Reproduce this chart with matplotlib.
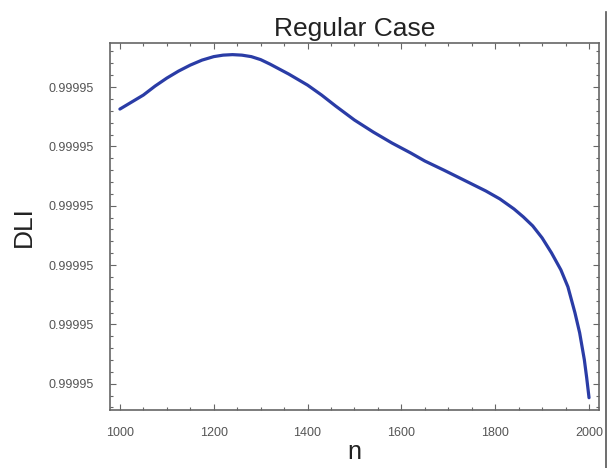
import matplotlib
matplotlib.use("Agg")
import matplotlib.pyplot as plt
from matplotlib.ticker import FixedLocator, FormatStrFormatter, MultipleLocator, AutoMinorLocator
from matplotlib.lines import Line2D

# Data
n_values = [1000, 1025, 1050, 1075, 1100, 1125, 1150, 1175, 1200, 1220, 1240,
            1260, 1280, 1300, 1320, 1340, 1360, 1400, 1430, 1460, 1500, 1540,
            1580, 1620, 1650, 1690, 1720, 1750, 1780, 1810, 1840, 1860, 1880,
            1900, 1920, 1940, 1955, 1970, 1980, 1990, 1995, 2000]
dli_values = [0.9999505259, 0.9999505495, 0.9999505731, 0.9999506034,
              0.9999506303, 0.9999506539, 0.9999506741, 0.9999506909,
              0.9999507027, 0.9999507077, 0.9999507094, 0.9999507077,
              0.9999507027, 0.9999506926, 0.9999506774, 0.9999506606,
              0.9999506438, 0.9999506067, 0.9999505731, 0.9999505360,
              0.9999504889, 0.9999504485, 0.9999504114, 0.9999503778,
              0.9999503508, 0.9999503205, 0.9999502970, 0.9999502734,
              0.9999502498, 0.9999502229, 0.9999501892, 0.9999501623,
              0.9999501320, 0.9999500916, 0.9999500411, 0.9999499838,
              0.9999499266, 0.9999498391, 0.9999497717, 0.9999496808,
              0.9999496202, 0.9999495529]
x_ticks = [1000, 1200, 1400, 1600, 1800, 2000]
y_ticks = [0.9999496, 0.9999498, 0.9999500, 0.9999502, 0.9999504, 0.9999506]

title_text = "Regular Case"
x_label = "n"
y_label = "DLI"

fig = plt.figure(figsize=(6.08, 4.68), dpi=100)
ax = fig.add_axes([0.181, 0.123, 0.804, 0.786])

ax.plot(n_values, dli_values, color="#2a3ca6", lw=2.3, solid_capstyle="round",
        solid_joinstyle="round")

ax.set_xlim(979, 2021)
ax.set_ylim(0.99994951, 0.99995075)

ax.xaxis.set_major_locator(FixedLocator(x_ticks))
ax.xaxis.set_minor_locator(MultipleLocator(50))
ax.yaxis.set_major_locator(FixedLocator(y_ticks))
ax.yaxis.set_minor_locator(AutoMinorLocator(5))
ax.yaxis.set_major_formatter(FormatStrFormatter("%.5f"))
ax.xaxis.set_major_formatter(FormatStrFormatter("%d"))

frame_col = "#666666"
for s in ax.spines.values():
    s.set_color(frame_col)
    s.set_linewidth(1.2)

ax.tick_params(which="both", direction="in", top=True, right=True,
               color=frame_col, width=0.8)
ax.tick_params(which="major", length=4)
ax.tick_params(which="minor", length=2)
ax.tick_params(axis="x", which="major", pad=12, labelsize=9, labelcolor="#555555")
ax.tick_params(axis="y", which="major", pad=12, labelsize=9, labelcolor="#555555")
for lab in ax.get_xticklabels() + ax.get_yticklabels():
    lab.set_fontfamily("Liberation Sans")

ax.set_title(title_text, fontsize=19, family="Liberation Sans",
             color="#222222", pad=5)
ax.set_xlabel(x_label, fontsize=18, family="Liberation Sans", color="#222222", labelpad=1)
ax.set_ylabel(y_label, fontsize=19, family="Liberation Sans", color="#222222", labelpad=9)

fig.add_artist(Line2D([0.997, 0.997], [0.0, 0.975], transform=fig.transFigure,
                      color="#555555", lw=1.2))

fig.savefig("out.png", dpi=100)
